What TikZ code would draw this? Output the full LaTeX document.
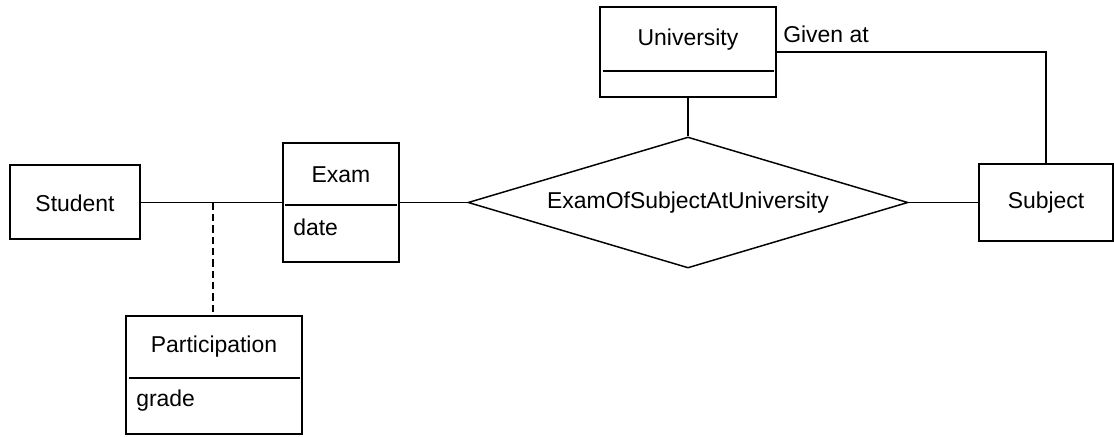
\documentclass[tikz,border=0pt]{standalone}
\usepackage{fontspec}
\setmainfont{Liberation Sans}
\usetikzlibrary{shapes.geometric}
\begin{document}
\begin{tikzpicture}[x=0.75pt,y=-0.75pt,
  every node/.style={font=\fontsize{17.2}{20}\selectfont},
  box/.style={draw,line width=1.1pt,rectangle,inner sep=0pt},
  rel/.style={draw,line width=1.1pt,diamond,inner sep=0pt,minimum width=330pt,minimum height=98.25pt},
  lbl/.style={inner sep=0pt,anchor=center},
  attr/.style={inner sep=0pt,anchor=west},
  conn/.style={line width=1.1pt},
  divider/.style={line width=1.3pt}]
\useasboundingbox (0,0) rectangle (1114,436);
% entities
\node[box,minimum width=97.5pt,minimum height=55.5pt] (student) at (75,202) {};
\node[lbl] (studentT) at (75,203) {Student};
\node[box,minimum width=87pt,minimum height=89.25pt] (exam) at (341,202.5) {};
\node[lbl] (examT) at (341,175) {Exam};
\node[attr] (examA) at (293,227) {date};
\node[box,minimum width=132pt,minimum height=88.5pt] (part) at (214,375) {};
\node[lbl] (partT) at (214,347) {Participation};
\node[attr] (partA) at (136,401) {grade};
\node[box,minimum width=132pt,minimum height=67.5pt] (uni) at (688,52) {};
\node[lbl] (uniT) at (688,40) {University};
\node[box,minimum width=100.5pt,minimum height=57.75pt] (subj) at (1046,202.5) {};
\node[lbl] (subjT) at (1046,203) {Subject};
\node[rel] (dia) at (688,202.5) {};
\node[lbl] (diaT) at (688,203) {ExamOfSubjectAtUniversity};
\node[attr] (given) at (783,34) {Given at};
% dividers
\draw[divider] (285,205) -- (397,205);
\draw[divider] (129,378) -- (300,378);
\draw[divider] (603,71) -- (774,71);
% connectors
\coordinate (j) at (213,202.5);
\draw[conn] (student.east |- 0,202.5) -- (exam.west |- 0,202.5);
\draw[conn,dash pattern=on 5.5pt off 3pt] (j) -- (j |- part.north);
\draw[conn] (dia.west) -- (dia.west -| exam.east);
\draw[conn] (uni.south) -- (dia.north);
\draw[conn] (dia.east) -- (dia.east -| subj.west);
\draw[conn] (uni.east) -| (subj.north);
\end{tikzpicture}
\end{document}
